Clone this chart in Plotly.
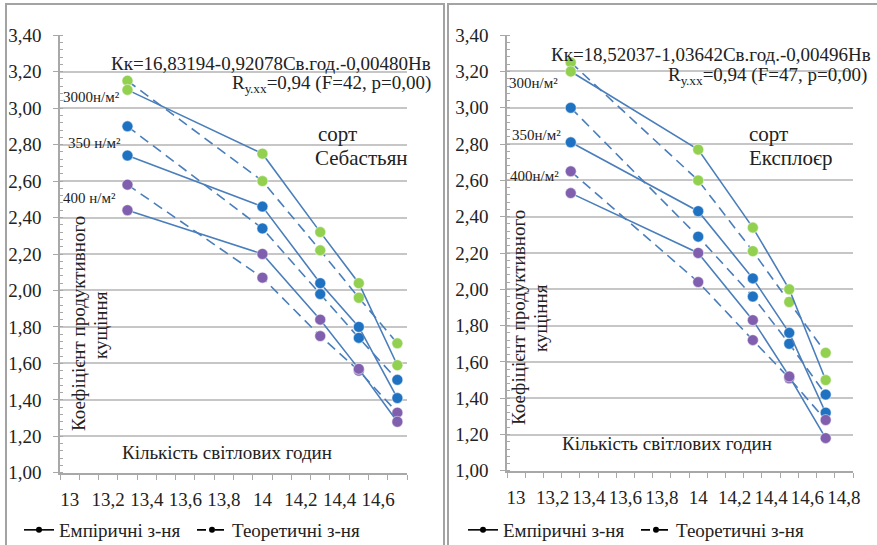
import plotly.graph_objects as go

# ---------------- data ----------------
hours = [13.3, 14.0, 14.3, 14.5, 14.7]

# сорт Себастьян
seb_emp_300 = [3.10, 2.75, 2.32, 2.04, 1.59]
seb_theo_300 = [3.15, 2.60, 2.22, 1.96, 1.71]
seb_emp_350 = [2.74, 2.46, 2.04, 1.80, 1.41]
seb_theo_350 = [2.90, 2.34, 1.98, 1.74, 1.51]
seb_emp_400 = [2.44, 2.20, 1.84, 1.57, 1.28]
seb_theo_400 = [2.58, 2.07, 1.75, 1.56, 1.33]

# сорт Експлоєр
exp_emp_300 = [3.20, 2.77, 2.34, 2.00, 1.50]
exp_theo_300 = [3.25, 2.60, 2.21, 1.93, 1.65]
exp_emp_350 = [2.81, 2.43, 2.06, 1.76, 1.32]
exp_theo_350 = [3.00, 2.29, 1.96, 1.70, 1.42]
exp_emp_400 = [2.53, 2.20, 1.83, 1.52, 1.18]
exp_theo_400 = [2.65, 2.04, 1.72, 1.51, 1.28]

x_ticks_left = [13, 13.2, 13.4, 13.6, 13.8, 14, 14.2, 14.4, 14.6]
x_labels_left = ["13", "13,2", "13,4", "13,6", "13,8", "14", "14,2", "14,4", "14,6"]
x_ticks_right = [13, 13.2, 13.4, 13.6, 13.8, 14, 14.2, 14.4, 14.6, 14.8]
x_labels_right = ["13", "13,2", "13,4", "13,6", "13,8", "14", "14,2", "14,4", "14,6", "14,8"]

legend_names = ["Емпіричні з-ня", "Теоретичні з-ня"]

# ---------------- style ----------------
W, H = 877, 545
FONT = "Liberation Serif, Times New Roman, serif"
LINE_C = "#4A7EBB"
GREEN, BLUE, PURPLE = "#92D050", "#1F72C2", "#8060AE"
GRID = "#c6c6c6"
AX = "#a8a8a8"
TXT = "#222222"


def px(x):
    return x / W


def py(y):
    return 1 - y / H


fig = go.Figure()


def add_series(xa, ya, vals, color, dashed):
    fig.add_trace(go.Scatter(
        x=hours, y=vals, xaxis=xa, yaxis=ya, mode="lines+markers",
        line=dict(color=LINE_C, width=1.6, dash="10px,6px" if dashed else "solid"),
        marker=dict(color=color, size=11, line=dict(color="rgba(255,255,255,0.45)", width=1.2)),
        showlegend=False, hoverinfo="x+y"))


for xa, ya, sets in [
    ("x", "y", [(seb_emp_300, seb_theo_300, GREEN), (seb_emp_350, seb_theo_350, BLUE),
                (seb_emp_400, seb_theo_400, PURPLE)]),
    ("x2", "y2", [(exp_emp_300, exp_theo_300, GREEN), (exp_emp_350, exp_theo_350, BLUE),
                  (exp_emp_400, exp_theo_400, PURPLE)]),
]:
    for emp, theo, col in sets:
        add_series(xa, ya, theo, col, True)
        add_series(xa, ya, emp, col, False)

# legend dummy traces
for xa, ya, lg in [("x", "y", "legend"), ("x2", "y2", "legend2")]:
    for name, dash in zip(legend_names, ["solid", "dash"]):
        fig.add_trace(go.Scatter(
            x=[None], y=[None], xaxis=xa, yaxis=ya, mode="lines+markers", name=name,
            line=dict(color="black", width=1.6, dash=dash),
            marker=dict(color="black", size=6), legend=lg))


def xaxis_cfg(domain, rng, tv, tt):
    return dict(
        domain=domain, range=rng, anchor=None, tickmode="array", tickvals=tv, ticktext=tt,
        ticks="", showgrid=False, zeroline=False, showline=True, linecolor=AX, linewidth=1.5,
        tickfont=dict(family=FONT, size=19, color=TXT), ticklabelstandoff=8,
        minor=dict(tickmode="linear", tick0=12.95, dtick=0.1, ticks="outside",
                   ticklen=5, tickcolor=AX, tickwidth=1, showgrid=False),
        automargin=False, fixedrange=True)


def yaxis_cfg(domain):
    return dict(
        domain=domain, range=[0.999, 3.401], tickmode="linear", tick0=1.0, dtick=0.2,
        tickformat=".2f", showgrid=True, gridcolor=GRID, gridwidth=1.6,
        zeroline=False, showline=True, linecolor=AX, linewidth=1.5,
        ticks="outside", ticklen=5, tickcolor=AX, ticklabelstandoff=8,
        tickfont=dict(family=FONT, size=19, color=TXT),
        minor=dict(tickmode="linear", tick0=1.0, dtick=0.04, ticks="inside",
                   ticklen=3, tickcolor=AX, showgrid=False),
        automargin=False, fixedrange=True)


xl = xaxis_cfg([px(60), px(407)], [12.95, 14.75], x_ticks_left, x_labels_left)
xl["anchor"] = "y"
xr = xaxis_cfg([px(507), px(853)], [12.95, 14.85], x_ticks_right, x_labels_right)
xr["anchor"] = "y2"
yl = yaxis_cfg([py(473), py(35)])
yl["anchor"] = "x"
yr = yaxis_cfg([py(471), py(35)])
yr["anchor"] = "x2"

annotations = []


def txt(x, y, text, size, xanchor="left", angle=0, color=TXT):
    annotations.append(dict(
        x=px(x), y=py(y), xref="paper", yref="paper", text=text, showarrow=False,
        xanchor=xanchor, yanchor="middle", textangle=angle,
        font=dict(family=FONT, size=size, color=color)))


# left panel texts
txt(433, 63, "Кк=16,83194-0,92078Св.год.-0,00480Нв", 19, "right")
txt(433, 84, "R<sub>у.хх</sub>=0,94 (F=42, p=0,00)", 19, "right")
txt(316, 134, "сорт", 21)
txt(313, 158, "Себастьян", 21)
txt(61, 97, "3000н/м²", 15)
txt(66, 143, "350 н/м²", 15)
txt(61, 198, "400 н/м²", 15)
txt(78, 324, "Коефіцієнт продуктивного", 19, "center", -90)
txt(100, 325, "кущіння", 19, "center", -90)
txt(227, 452, "Кількість світлових годин", 19, "center")

# right panel texts
txt(873, 54, "Кк=18,52037-1,03642Св.год.-0,00496Нв", 19, "right")
txt(869, 76, "R<sub>у.хх</sub>=0,94 (F=47, p=0,00)", 19, "right")
txt(747, 134, "сорт", 21)
txt(747, 158, "Експлоєр", 21)
txt(507, 83, "300н/м²", 15)
txt(510, 135, "350н/м²", 15)
txt(508, 176, "400н/м²", 15)
txt(518, 318, "Коефіцієнт продуктивного", 19, "center", -90)
txt(540, 318, "кущіння", 19, "center", -90)
txt(667, 443, "Кількість світлових годин", 19, "center")

shapes = [
    dict(type="rect", xref="paper", yref="paper", x0=px(6), x1=px(444), y0=py(560), y1=py(4),
         line=dict(color="#a3a3a3", width=2), fillcolor="rgba(0,0,0,0)", layer="below"),
    dict(type="rect", xref="paper", yref="paper", x0=px(448), x1=px(890), y0=py(560), y1=py(4),
         line=dict(color="#a3a3a3", width=2), fillcolor="rgba(0,0,0,0)", layer="below"),
]

leg_common = dict(orientation="h", yanchor="middle", xanchor="left", bgcolor="rgba(0,0,0,0)",
                  font=dict(family=FONT, size=19, color=TXT), entrywidth=128,
                  entrywidthmode="pixels", itemwidth=30, tracegroupgap=0)

fig.update_layout(
    width=W, height=H, margin=dict(l=0, r=0, t=0, b=0, autoexpand=False),
    paper_bgcolor="white", plot_bgcolor="white", separators=", ",
    xaxis=xl, yaxis=yl, xaxis2=xr, yaxis2=yr,
    annotations=annotations, shapes=shapes,
    legend=dict(x=px(19), y=py(530), **leg_common),
    legend2=dict(x=px(463), y=py(530), **leg_common),
    font=dict(family=FONT, color=TXT),
)

fig.write_html(
    "out.html",
    config={"displayModeBar": False},
    post_script="document.body.style.margin='0px';document.body.style.overflow='hidden';",
)
